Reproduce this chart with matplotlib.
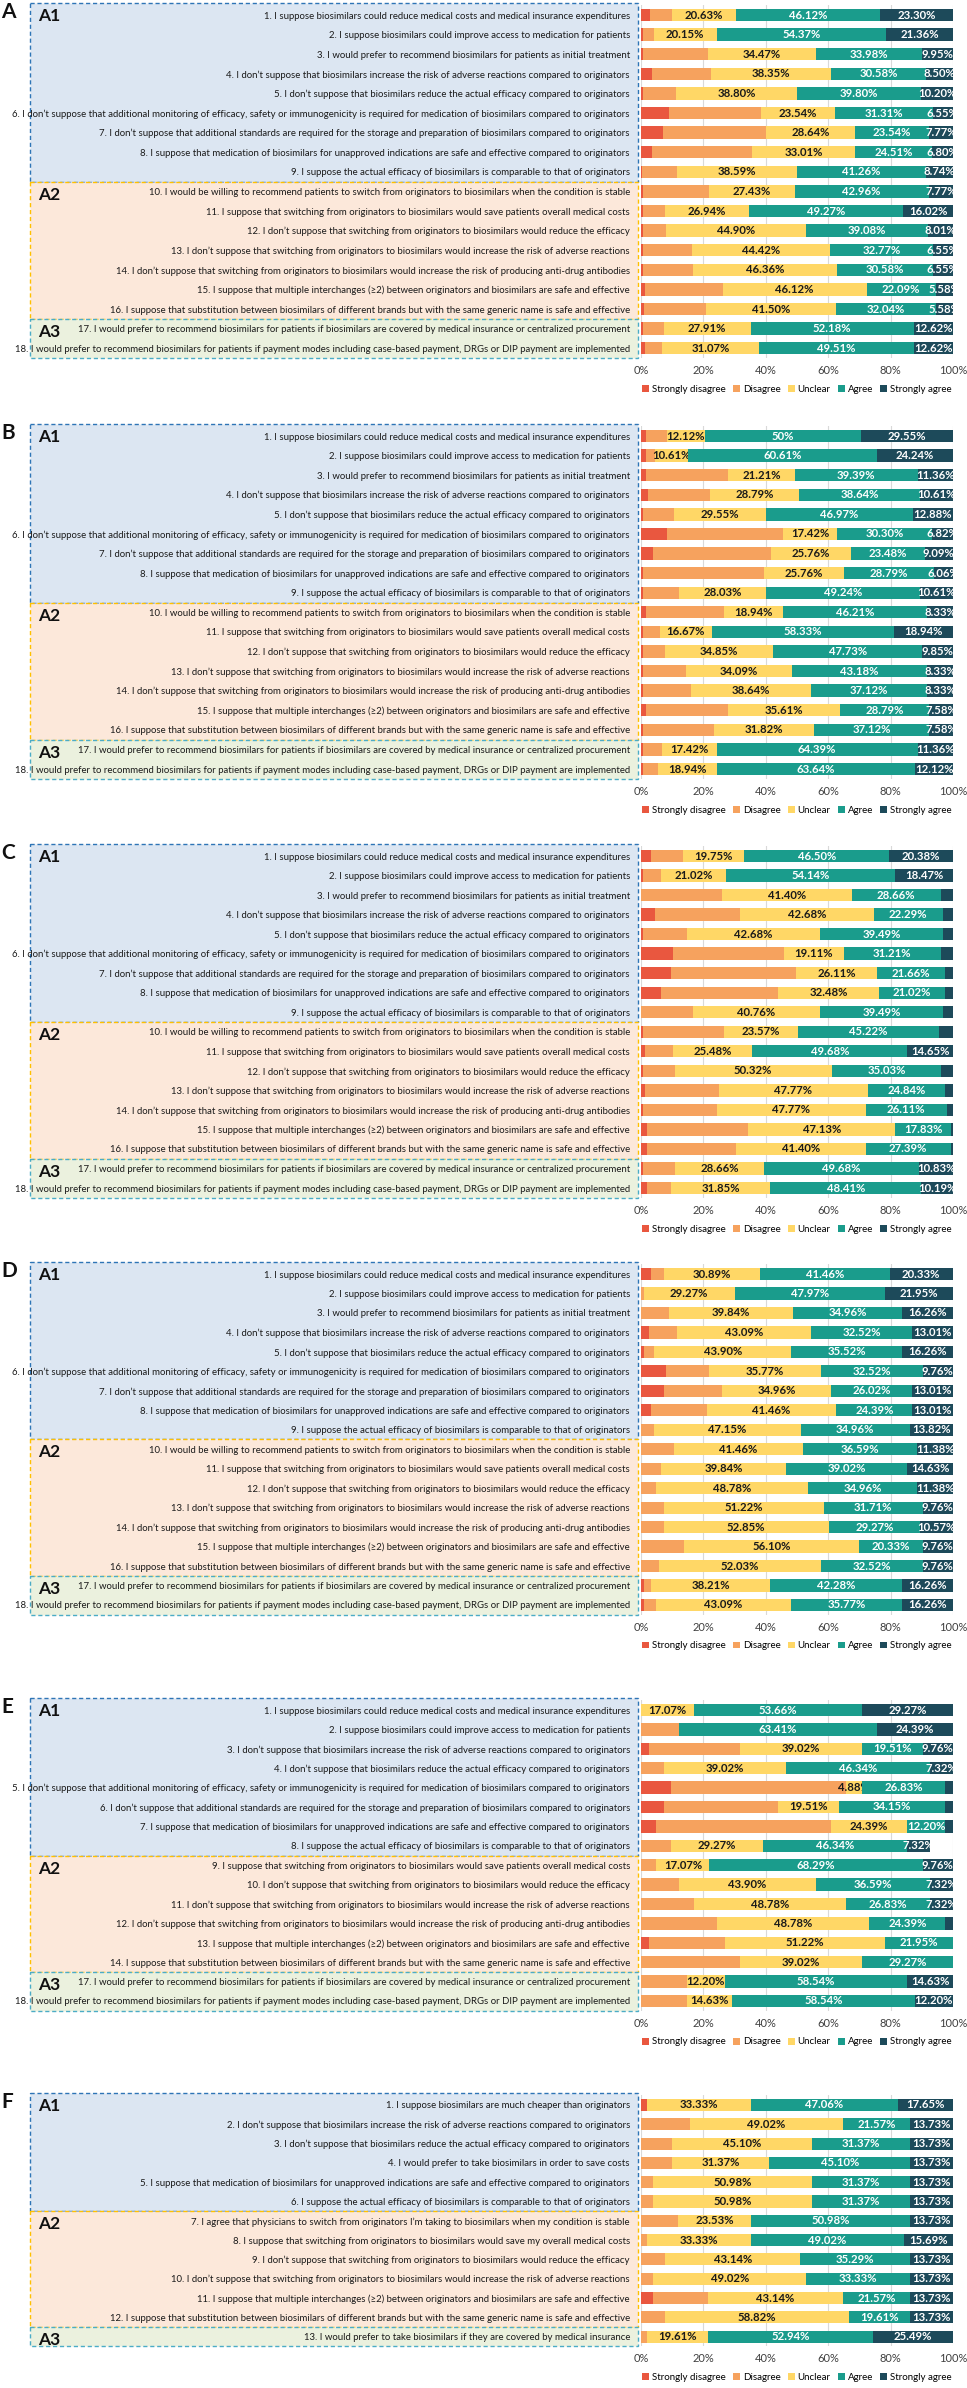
import matplotlib
matplotlib.use('Agg')
import matplotlib.pyplot as plt
from matplotlib.patches import Rectangle
import numpy as np

FAM = ['Lato', 'DejaVu Sans']
plt.rcParams['font.family'] = FAM

# ---------------- data ----------------
categories = ['Strongly disagree', 'Disagree', 'Unclear', 'Agree', 'Strongly agree']

labels_phys = [
    "1. I suppose biosimilars could reduce medical costs and medical insurance expenditures",
    "2. I suppose biosimilars could improve access to medication for patients",
    "3. I would prefer to recommend biosimilars for patients as initial treatment",
    "4. I don\u2019t suppose that biosimilars increase the risk of adverse reactions compared to originators",
    "5. I don\u2019t suppose that biosimilars reduce the actual efficacy compared to originators",
    "6. I don\u2019t suppose that additional monitoring of efficacy, safety or immunogenicity is required for medication of biosimilars compared to originators",
    "7. I don\u2019t suppose that additional standards are required for the storage and preparation of biosimilars compared to originators",
    "8. I suppose that medication of biosimilars for unapproved indications are safe and effective compared to originators",
    "9. I suppose the actual efficacy of biosimilars is comparable to that of originators",
    "10. I would be willing to recommend patients to switch from originators to biosimilars when the condition is stable",
    "11. I suppose that switching from originators to biosimilars would save patients overall medical costs",
    "12. I don\u2019t suppose that switching from originators to biosimilars would reduce the efficacy",
    "13. I don\u2019t suppose that switching from originators to biosimilars would increase the risk of adverse reactions",
    "14. I don\u2019t suppose that switching from originators to biosimilars would increase the risk of producing anti-drug antibodies",
    "15. I suppose that multiple interchanges (\u22652) between originators and biosimilars are safe and effective",
    "16. I suppose that substitution between biosimilars of different brands but with the same generic name is safe and effective",
    "17. I would prefer to recommend biosimilars for patients if biosimilars are covered by medical insurance or centralized procurement",
    "18. I would prefer to recommend biosimilars for patients if payment modes including case-based payment, DRGs or DIP payment are implemented",
]
groups_phys = [9, 7, 2]

labels_E = [
    "1. I suppose biosimilars could reduce medical costs and medical insurance expenditures",
    "2. I suppose biosimilars could improve access to medication for patients",
    "3. I don\u2019t suppose that biosimilars increase the risk of adverse reactions compared to originators",
    "4. I don\u2019t suppose that biosimilars reduce the actual efficacy compared to originators",
    "5. I don\u2019t suppose that additional monitoring of efficacy, safety or immunogenicity is required for medication of biosimilars compared to originators",
    "6. I don\u2019t suppose that additional standards are required for the storage and preparation of biosimilars compared to originators",
    "7. I suppose that medication of biosimilars for unapproved indications are safe and effective compared to originators",
    "8. I suppose the actual efficacy of biosimilars is comparable to that of originators",
    "9. I suppose that switching from originators to biosimilars would save patients overall medical costs",
    "10. I don\u2019t suppose that switching from originators to biosimilars would reduce the efficacy",
    "11. I don\u2019t suppose that switching from originators to biosimilars would increase the risk of adverse reactions",
    "12. I don\u2019t suppose that switching from originators to biosimilars would increase the risk of producing anti-drug antibodies",
    "13. I suppose that multiple interchanges (\u22652) between originators and biosimilars are safe and effective",
    "14. I suppose that substitution between biosimilars of different brands but with the same generic name is safe and effective",
    "17. I would prefer to recommend biosimilars for patients if biosimilars are covered by medical insurance or centralized procurement",
    "18. I would prefer to recommend biosimilars for patients if payment modes including case-based payment, DRGs or DIP payment are implemented",
]
groups_E = [8, 6, 2]

labels_F = [
    "1. I suppose biosimilars are much cheaper than originators",
    "2. I don\u2019t suppose that biosimilars increase the risk of adverse reactions compared to originators",
    "3. I don\u2019t suppose that biosimilars reduce the actual efficacy compared to originators",
    "4. I would prefer to take biosimilars in order to save costs",
    "5. I suppose that medication of biosimilars for unapproved indications are safe and effective compared to originators",
    "6. I suppose the actual efficacy of biosimilars is comparable to that of originators",
    "7. I agree that physicians to switch from originators I\u2019m taking to biosimilars when my condition is stable",
    "8. I suppose that switching from originators to biosimilars would save my overall medical costs",
    "9. I don\u2019t suppose that switching from originators to biosimilars would reduce the efficacy",
    "10. I don\u2019t suppose that switching from originators to biosimilars would increase the risk of adverse reactions",
    "11. I suppose that multiple interchanges (\u22652) between originators and biosimilars are safe and effective",
    "12. I suppose that substitution between biosimilars of different brands but with the same generic name is safe and effective",
    "13. I would prefer to take biosimilars if they are covered by medical insurance",
]
groups_F = [6, 6, 1]

A_sd = [2.91, 0.80, 0.49, 3.40, 0.49, 9.00, 7.00, 3.60, 0.24, 0.49, 0.73, 0.49, 0.73, 0.49, 1.21, 0.97, 0.49, 1.21]
A_d  = [7.05, 3.32, 21.11, 19.17, 10.71, 29.60, 33.05, 32.08, 11.17, 21.35, 7.04, 7.52, 15.53, 16.02, 25.00, 19.91, 6.80, 5.59]
A_u  = [20.63, 20.15, 34.47, 38.35, 38.80, 23.54, 28.64, 33.01, 38.59, 27.43, 26.94, 44.90, 44.42, 46.36, 46.12, 41.50, 27.91, 31.07]
A_a  = [46.12, 54.37, 33.98, 30.58, 39.80, 31.31, 23.54, 24.51, 41.26, 42.96, 49.27, 39.08, 32.77, 30.58, 22.09, 32.04, 52.18, 49.51]
A_sa = [23.30, 21.36, 9.95, 8.50, 10.20, 6.55, 7.77, 6.80, 8.74, 7.77, 16.02, 8.01, 6.55, 6.55, 5.58, 5.58, 12.62, 12.62]

B_sd = [1.52, 1.52, 1.52, 2.27, 0.76, 8.33, 3.79, 0.76, 0.76, 1.52, 0.76, 0.76, 0.76, 0.76, 1.52, 0.76, 0.76, 0.76]
B_d  = [6.81, 3.02, 26.52, 19.69, 9.84, 37.13, 37.88, 38.63, 11.36, 25.00, 5.30, 6.81, 13.64, 15.15, 26.50, 22.72, 6.07, 4.54]
B_u  = [12.12, 10.61, 21.21, 28.79, 29.55, 17.42, 25.76, 25.76, 28.03, 18.94, 16.67, 34.85, 34.09, 38.64, 35.61, 31.82, 17.42, 18.94]
B_a  = [50.00, 60.61, 39.39, 38.64, 46.97, 30.30, 23.48, 28.79, 49.24, 46.21, 58.33, 47.73, 43.18, 37.12, 28.79, 37.12, 64.39, 63.64]
B_sa = [29.55, 24.24, 11.36, 10.61, 12.88, 6.82, 9.09, 6.06, 10.61, 8.33, 18.94, 9.85, 8.33, 8.33, 7.58, 7.58, 11.36, 12.12]

C_sd = [3.18, 0.64, 0.00, 4.46, 0.64, 10.19, 9.55, 6.37, 0.00, 0.64, 1.27, 0.64, 1.27, 0.64, 1.91, 1.91, 0.64, 1.91]
C_d  = [10.19, 5.73, 26.12, 27.39, 14.01, 35.67, 40.13, 37.58, 16.57, 26.11, 8.92, 10.19, 23.57, 23.57, 32.49, 28.66, 10.19, 7.64]
C_u  = [19.75, 21.02, 41.40, 42.68, 42.68, 19.11, 26.11, 32.48, 40.76, 23.57, 25.48, 50.32, 47.77, 47.77, 47.13, 41.40, 28.66, 31.85]
C_a  = [46.50, 54.14, 28.66, 22.29, 39.49, 31.21, 21.66, 21.02, 39.49, 45.22, 49.68, 35.03, 24.84, 26.11, 17.83, 27.39, 49.68, 48.41]
C_sa = [20.38, 18.47, 3.82, 3.18, 3.18, 3.82, 2.55, 2.55, 3.18, 4.46, 14.65, 3.82, 2.55, 1.91, 0.64, 0.64, 10.83, 10.19]

D_sd = [3.25, 0.00, 0.00, 2.44, 0.81, 8.13, 7.32, 3.25, 0.00, 0.00, 0.00, 0.00, 0.00, 0.00, 0.00, 0.00, 0.81, 0.81]
D_d  = [4.07, 0.81, 8.94, 8.94, 3.51, 13.82, 18.69, 17.89, 4.07, 10.57, 6.51, 4.88, 7.31, 7.31, 13.81, 5.69, 2.44, 4.07]
D_u  = [30.89, 29.27, 39.84, 43.09, 43.90, 35.77, 34.96, 41.46, 47.15, 41.46, 39.84, 48.78, 51.22, 52.85, 56.10, 52.03, 38.21, 43.09]
D_a  = [41.46, 47.97, 34.96, 32.52, 35.52, 32.52, 26.02, 24.39, 34.96, 36.59, 39.02, 34.96, 31.71, 29.27, 20.33, 32.52, 42.28, 35.77]
D_sa = [20.33, 21.95, 16.26, 13.01, 16.26, 9.76, 13.01, 13.01, 13.82, 11.38, 14.63, 11.38, 9.76, 10.57, 9.76, 9.76, 16.26, 16.26]

E_sd = [0.00, 0.00, 2.44, 0.00, 9.76, 7.32, 4.88, 0.00, 0.00, 0.00, 0.00, 0.00, 2.44, 0.00, 0.00, 0.00]
E_d  = [0.00, 12.20, 29.27, 7.32, 56.09, 36.59, 56.09, 9.76, 4.88, 12.19, 17.07, 24.39, 24.39, 31.71, 14.63, 14.63]
E_u  = [17.07, 0.00, 39.02, 39.02, 4.88, 19.51, 24.39, 29.27, 17.07, 43.90, 48.78, 48.78, 51.22, 39.02, 12.20, 14.63]
E_a  = [53.66, 63.41, 19.51, 46.34, 26.83, 34.15, 12.20, 46.34, 68.29, 36.59, 26.83, 24.39, 21.95, 29.27, 58.54, 58.54]
E_sa = [29.27, 24.39, 9.76, 7.32, 2.44, 2.43, 2.44, 7.32, 9.76, 7.32, 7.32, 2.44, 0.00, 0.00, 14.63, 12.20]

F_sd = [1.96, 0.00, 0.00, 0.00, 0.00, 0.00, 0.00, 0.00, 0.00, 0.00, 3.92, 0.00, 0.00]
F_d  = [0.00, 15.68, 9.80, 9.80, 3.92, 3.92, 11.76, 1.96, 7.84, 3.92, 17.64, 7.84, 1.96]
F_u  = [33.33, 49.02, 45.10, 31.37, 50.98, 50.98, 23.53, 33.33, 43.14, 49.02, 43.14, 58.82, 19.61]
F_a  = [47.06, 21.57, 31.37, 45.10, 31.37, 31.37, 50.98, 49.02, 35.29, 33.33, 21.57, 19.61, 52.94]
F_sa = [17.65, 13.73, 13.73, 13.73, 13.73, 13.73, 13.73, 15.69, 13.73, 13.73, 13.73, 13.73, 25.49]

tick_vals = [0, 20, 40, 60, 80, 100]
tick_labels = ['0%', '20%', '40%', '60%', '80%', '100%']

# ---------------- styling / layout ----------------
W, H = 967, 2388
colors = ['#E9573F', '#F6A25E', '#FFD766', '#1A9C8C', '#1D4A5A']
text_colors = [None, None, '#1a1a1a', 'white', 'white']
box_face = ['#DCE6F2', '#FCE8DA', '#EBF1DE']
box_edge = ['#2E75B6', '#FFC000', '#4BACC6']
group_names = ['A1', 'A2', 'A3']

panels = [
    ('A', labels_phys, groups_phys, [A_sd, A_d, A_u, A_a, A_sa], 15, 19.6),
    ('B', labels_phys, groups_phys, [B_sd, B_d, B_u, B_a, B_sa], 436, 19.59),
    ('C', labels_phys, groups_phys, [C_sd, C_d, C_u, C_a, C_sa], 856, 19.53),
    ('D', labels_phys, groups_phys, [D_sd, D_d, D_u, D_a, D_sa], 1274, 19.47),
    ('E', labels_E, groups_E, [E_sd, E_d, E_u, E_a, E_sa], 1710, 19.4),
    ('F', labels_F, groups_F, [F_sd, F_d, F_u, F_a, F_sa], 2105, 19.3),
]
X0, X1 = 641, 953
BOX_L, BOX_R = 30, 638

fig = plt.figure(figsize=(W / 100, H / 100), dpi=100)
bg = fig.add_axes([0, 0, 1, 1], zorder=0)
bg.set_xlim(0, W)
bg.set_ylim(H, 0)
bg.axis('off')

renderer = fig.canvas.get_renderer()
longest = max(labels_phys, key=len)
t = fig.text(0, 0, longest, fontsize=10)
wpx = t.get_window_extent(renderer).width
t.remove()
label_fs = 10 * 620 / wpx


def fmt(v):
    if abs(v - round(v)) < 1e-9:
        return f"{int(round(v))}%"
    return f"{v:.2f}%"


for letter, labels, groups, series, y1, sp in panels:
    n = len(labels)
    ylast = y1 + (n - 1) * sp
    top_px = y1 - sp / 2
    bot_px = ylast + sp / 2
    ax = fig.add_axes([X0 / W, 1 - bot_px / H, (X1 - X0) / W, (bot_px - top_px) / H], zorder=2)
    ax.set_facecolor('none')
    y = np.arange(n)
    left = np.zeros(n)
    handles = []
    for k in range(5):
        vals = np.array(series[k], dtype=float)
        cont = ax.barh(y, vals, left=left, height=0.63, color=colors[k], label=categories[k], zorder=3, linewidth=0)
        handles.append(cont)
        if k >= 2:
            labs = [fmt(v) if v >= 4.8 else '' for v in vals]
            ax.bar_label(cont, labels=labs, label_type='center', color=text_colors[k],
                         fontsize=8.2, fontweight='bold')
        left = left + vals
    ax.set_xlim(0, 100)
    ax.set_ylim(n - 0.5, -0.5)
    ax.set_xticks(tick_vals)
    ax.set_xticklabels(tick_labels, fontsize=8, color='#404040')
    ax.set_yticks(y)
    ax.set_yticklabels(labels, fontsize=label_fs, color='#1a1a1a')
    ax.tick_params(axis='both', length=0)
    ax.tick_params(axis='y', pad=8)
    ax.tick_params(axis='x', pad=5)
    ax.grid(axis='x', color='#D9D9D9', linewidth=0.8, zorder=0)
    ax.set_axisbelow(True)
    for s in ax.spines.values():
        s.set_visible(False)
    leg_y = ylast + 41
    ax.legend(handles=handles, loc='center', bbox_to_anchor=((X0 + X1) / 2 / W, 1 - leg_y / H),
              bbox_transform=fig.transFigure, ncol=5, frameon=False, fontsize=7,
              handlelength=0.7, handleheight=0.7, handletextpad=0.3, columnspacing=0.75,
              borderaxespad=0, borderpad=0)

    start = 0
    for gi, cnt in enumerate(groups):
        gtop = y1 + start * sp - sp / 2 - (2 if gi == 0 else 0)
        gbot = y1 + (start + cnt - 1) * sp + sp / 2
        bg.add_patch(Rectangle((BOX_L, gtop), BOX_R - BOX_L, gbot - gtop, facecolor=box_face[gi],
                               edgecolor=box_edge[gi], linestyle=(0, (3, 2)), linewidth=1.0))
        bg.text(BOX_L + 8, gtop + 5, group_names[gi], fontsize=12.5, fontweight='bold',
                va='top', ha='left', color='#111111')
        start += cnt
    bg.text(1, y1 - sp / 2 - 3, letter, fontsize=15, fontweight='bold', va='top', ha='left', color='#111111')

fig.savefig('out.png', dpi=100)
